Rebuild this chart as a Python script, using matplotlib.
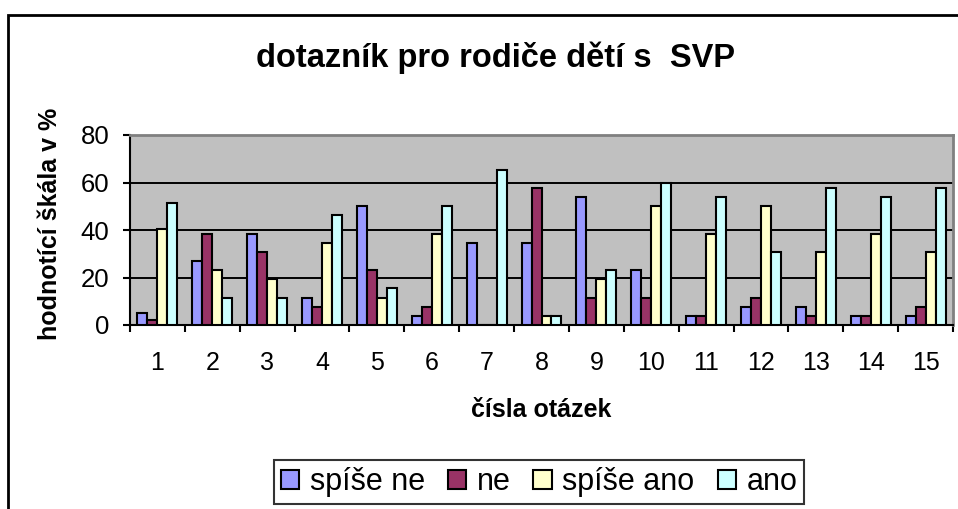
import numpy as np
import matplotlib.pyplot as plt
from matplotlib.patches import Rectangle
from matplotlib.ticker import FixedLocator, MultipleLocator

plt.rcParams["font.family"] = ["Liberation Sans", "DejaVu Sans"]

# data (percent)
questions = [str(i) for i in range(1, 16)]
series_names = ["spíše ne", "ne", "spíše ano", "ano"]
spise_ne = [5, 26.9, 38.5, 11.5, 50, 3.8, 34.6, 34.6, 53.8, 23.1, 3.8, 7.7, 7.7, 3.8, 3.8]
ne = [2, 38.5, 30.8, 7.7, 23.1, 7.7, 0, 57.7, 11.5, 11.5, 3.8, 11.5, 3.8, 3.8, 7.7]
spise_ano = [40.5, 23.1, 19.2, 34.6, 11.5, 38.5, 0, 3.8, 19.2, 50, 38.5, 50, 30.8, 38.5, 30.8]
ano = [51.5, 11.5, 11.5, 46.2, 15.4, 50, 65.4, 3.8, 23.1, 59.6, 53.8, 30.8, 57.7, 53.8, 57.7]
colors = ["#9999FF", "#993366", "#FFFFCC", "#CCFFFF"]

fig = plt.figure(figsize=(9.58, 5.09), dpi=100)
W, H = 958, 509
ax = fig.add_axes([130 / W, 1 - 325 / H, (953 - 130) / W, (325 - 135) / H])
ax.set_facecolor("#C0C0C0")

x = np.arange(1, 16)
w = 1 / 5.5
for k, (vals, name, c) in enumerate(zip([spise_ne, ne, spise_ano, ano], series_names, colors)):
    ax.bar(x + (k - 1.5) * w, vals, width=w, color=c, edgecolor="black",
           linewidth=1.5, label=name, zorder=3)

ax.set_xlim(0.5, 15.5)
ax.set_ylim(0, 80)
ax.yaxis.set_major_locator(MultipleLocator(20))
ax.grid(axis="y", color="black", linewidth=1.4, zorder=1)
ax.set_axisbelow(True)

ax.set_xticks(x)
ax.set_xticklabels(questions)
ax.xaxis.set_minor_locator(FixedLocator(np.arange(0.5, 16, 1)))
ax.tick_params(axis="x", which="major", length=0, pad=19, labelsize=18)
ax.tick_params(axis="x", which="minor", length=5, width=1.5, direction="out")
ax.tick_params(axis="y", length=5, width=1.5, pad=10, labelsize=18.5)

for s in ["left", "bottom"]:
    ax.spines[s].set_color("black")
    ax.spines[s].set_linewidth(1.5)
for s in ["top", "right"]:
    ax.spines[s].set_color("#808080")
    ax.spines[s].set_linewidth(2)

fig.text(496 / W, 1 - 58 / H, "dotazník pro rodiče dětí s  SVP", ha="center",
         va="center", fontsize=23.5, fontweight="bold")
fig.text(541 / W, 1 - 410 / H, "čísla otázek", ha="center", va="center",
         fontsize=18, fontweight="bold")
fig.text(50 / W, 1 - 224 / H, "hodnotící škála v %", ha="center", va="center",
         rotation=90, fontsize=18, fontweight="bold")

# outer chart frame
fig.add_artist(Rectangle((8 / W, -0.1), 2, 1 - 15 / H + 0.1, transform=fig.transFigure,
                         fill=False, edgecolor="black", linewidth=2))

leg = fig.legend(loc="center", bbox_to_anchor=(539 / W, 1 - 482 / H), ncol=4,
                 fontsize=22, frameon=True, fancybox=False, edgecolor="black",
                 handlelength=0.6, handleheight=0.6, handletextpad=0.35,
                 columnspacing=0.75, borderpad=0.22, borderaxespad=0)
leg.get_frame().set_linewidth(1.5)

fig.savefig("out.png", dpi=100)
